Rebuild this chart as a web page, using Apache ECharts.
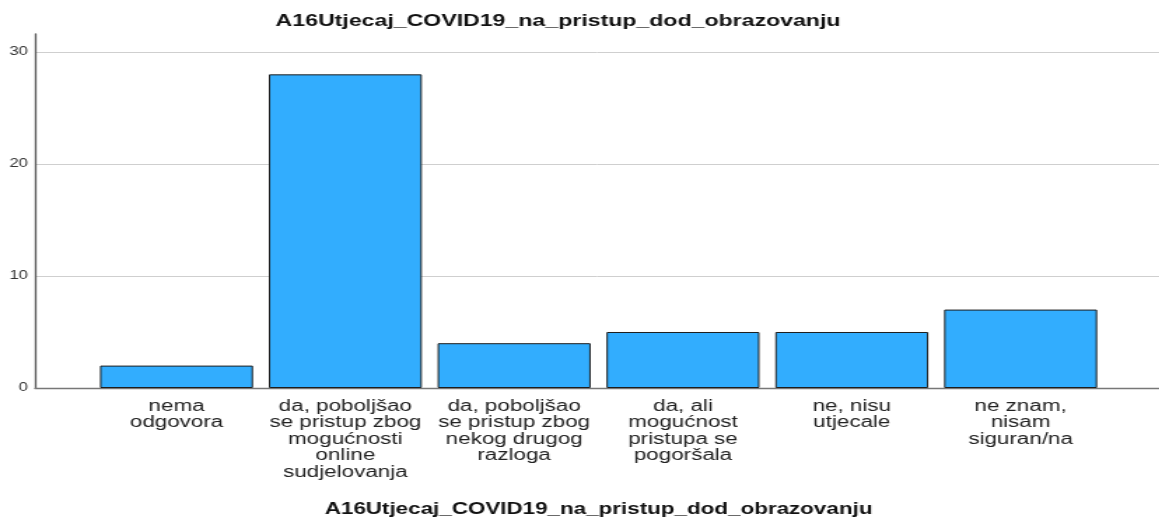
<!DOCTYPE html>
<html>
<head>
<meta charset="utf-8">
<script src="https://cdn.jsdelivr.net/npm/echarts@6/dist/echarts.min.js"></script>
<style>
  html, body { margin: 0; padding: 0; background: #fff; overflow: hidden; }
  /* the reference picture is stretched horizontally, so the chart is drawn narrow and scaled */
  #chart { width: 828px; height: 520px; transform: scaleX(1.4); transform-origin: 0 0; }
</style>
</head>
<body>
<div id="chart"></div>
<script>
const titleText = 'A16Utjecaj_COVID19_na_pristup_dod_obrazovanju';
const categories = [
  'nema\nodgovora',
  'da, poboljšao\nse pristup zbog\nmogućnosti\nonline\nsudjelovanja',
  'da, poboljšao\nse pristup zbog\nnekog drugog\nrazloga',
  'da, ali\nmogućnost\npristupa se\npogoršala',
  'ne, nisu\nutjecale',
  'ne znam,\nnisam\nsiguran/na'
];
const counts = [2, 28, 4, 5, 5, 7];
const yMax = 31.6;
const yInterval = 10;

const font = 'Liberation Sans, Arial, sans-serif';
const chart = echarts.init(document.getElementById('chart'));

const option = {
  animation: false,
  title: {
    text: titleText,
    left: 398.6,
    top: 13,
    padding: 0,
    textAlign: 'center',
    textStyle: { fontFamily: font, fontSize: 16.5, fontWeight: 'bold', color: '#111', lineHeight: 17 }
  },
  grid: [
    { left: 25, right: 0, top: 34, bottom: 132, outerBoundsMode: 'none' },
    { left: 65.8, right: 38.7, top: 34, bottom: 132, outerBoundsMode: 'none' }
  ],
  xAxis: [
    {
      type: 'value', gridIndex: 0, min: 0, max: 1,
      axisLine: { show: true, lineStyle: { color: '#777', width: 1.3 } },
      axisTick: { show: false }, axisLabel: { show: false }, splitLine: { show: false }
    },
    {
      type: 'category', gridIndex: 1, data: categories,
      axisLine: { show: false }, axisTick: { show: false },
      axisLabel: { interval: 0, margin: 10, fontFamily: font, fontSize: 16, lineHeight: 16.5, color: '#222' },
      name: titleText, nameLocation: 'middle', nameGap: 114,
      nameTextStyle: { fontFamily: font, fontSize: 16, fontWeight: 'bold', color: '#111', lineHeight: 16 }
    }
  ],
  yAxis: [
    {
      type: 'value', gridIndex: 0, min: 0, max: yMax, interval: yInterval,
      axisLine: { show: true, lineStyle: { color: '#555', width: 1.3 } },
      axisTick: { show: false },
      axisLabel: { margin: 5, fontFamily: font, fontSize: 12, color: '#333', showMaxLabel: false },
      splitLine: { show: true, showMaxLine: false, lineStyle: { color: '#cfcfcf', width: 1 } }
    },
    { type: 'value', gridIndex: 1, min: 0, max: yMax, interval: yInterval, show: false, splitLine: { show: false } }
  ],
  series: [
    {
      type: 'bar', xAxisIndex: 1, yAxisIndex: 1, data: counts, barWidth: 109.3,
      itemStyle: { color: '#32adfe', borderColor: '#1e1e1e', borderWidth: 1 }
    }
  ]
};

chart.setOption(option);
</script>
</body>
</html>
